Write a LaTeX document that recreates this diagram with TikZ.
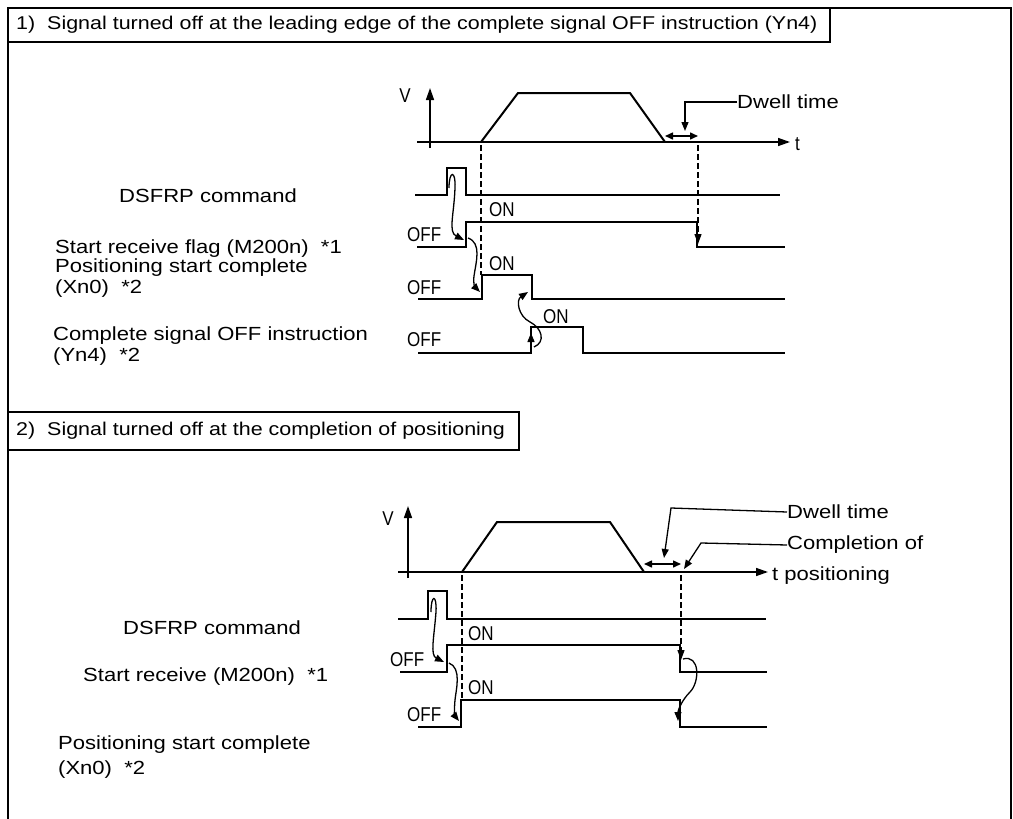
\documentclass[tikz,border=0pt]{standalone}
\usepackage{fontspec}
\setmainfont{Liberation Sans}
\newfontfamily\widefont[FakeStretch=1.16]{Liberation Sans}
\newfontfamily\narrowfont[FakeStretch=0.85]{Liberation Sans}
\usetikzlibrary{arrows.meta}
\begin{document}
\begin{tikzpicture}[x=1pt,y=-1pt,
  wave/.style={line width=2pt, line join=miter},
  axisln/.style={line width=1.5pt,-{Triangle[length=12pt,width=8pt]}},
  dashln/.style={line width=1.2pt, dash pattern=on 6pt off 3pt},
  dasharr/.style={line width=1.2pt, dash pattern=on 6pt off 3pt,-{Triangle[length=10pt,width=7pt]}},
  curvarr/.style={line width=1.3pt,-{Triangle[length=9pt,width=7pt]}},
  dblarr/.style={line width=1.5pt,{Triangle[length=8pt,width=7pt]}-{Triangle[length=8pt,width=7pt]}},
  lbl/.style={font=\widefont\fontsize{19}{22}\selectfont, anchor=west, inner sep=0pt},
  hdr/.style={font=\widefont\fontsize{18.5}{22}\selectfont, anchor=west, inner sep=0pt},
  sig/.style={font=\narrowfont\fontsize{20}{22}\selectfont, anchor=west, inner sep=0pt},
  frameln/.style={line width=2pt}]
\useasboundingbox (0,0) rectangle (1013,819);

% ---------- frame and headers ----------
\draw[frameln] (8,819) -- (8,8) -- (1011,8) -- (1011,819);
\node[hdr] (h1) at (16,25) {1)\ \ Signal turned off at the leading edge of the complete signal OFF instruction (Yn4)};
\draw[frameln] (8,42) -- (h1.east |- 0,42) ++(12,0) coordinate (h1c) (8,42) -- (h1c) -- (h1c |- 0,8);
\node[hdr] (h2) at (16,431) {2)\ \ Signal turned off at the completion of positioning};
\draw[frameln] (8,412) -- (h2.east |- 0,412) ++(14,0) coordinate (h2c) (8,412) -- (h2c) -- (h2c |- 0,450) -- (8,450);

% ---------- section 1 ----------
\coordinate (v1o) at (430,148);
\coordinate (v1t) at (430,88);
\draw[axisln] (v1o) -- (v1t);
\node[sig, anchor=center] (v1) at (405,96) {V};
\coordinate (t1s) at (417,142);
\coordinate (t1e) at (790,142);
\draw[axisln] (t1s) -- (t1e);
\node[sig] (t1) at (795,144) {t};
\draw[wave] (481,142) -- (518,93) -- (630,93) -- (665,142);
\draw[dblarr] (665,136) -- (698,136);
\node[lbl] (dw1) at (737,102) {Dwell time};
\draw[curvarr] (dw1.west) -- (685,102) -- (685,131);

% waveforms
\draw[wave] (415,195) -- (447,195) -- (447,168) -- (466,168) -- (466,195) -- (780,195);
\draw[wave] (417,247) -- (466,247) -- (466,222) -- (697,222) -- (697,247) -- (785,247);
\draw[wave] (418,299) -- (482,299) -- (482,275) -- (532,275) -- (532,299) -- (785,299);
\draw[wave] (418,353) -- (531,353) -- (531,327) -- (583,327) -- (583,353) -- (785,353);
\draw[dashln] (481,145) -- (481,275);
\draw[dasharr] (698,145) -- (698,244);

\node[sig] (off11) at (407,235) {OFF};
\node[sig] (on11) at (489,210) {ON};
\node[sig] (off12) at (407,288) {OFF};
\node[sig] (on12) at (489,264) {ON};
\node[sig] (off13) at (407,340) {OFF};
\node[sig] (on13) at (543,317) {ON};

\draw[curvarr] (449,188) .. controls (449,170) and (456,170) .. (455,188)
   .. controls (454,215) and (448,232) .. (464,240);
\draw[curvarr] (468,238) .. controls (482,243) and (476,262) .. (474,276) .. controls (473,283) and (475,287) .. (480,292);
\draw[curvarr] (531,352) -- (531,333);
\draw[curvarr] (534,347) .. controls (546,342) and (542,328) .. (530,322) .. controls (518,316) and (516,300) .. (528,292);

\node[lbl, anchor=center] (ds1) at (208,196) {DSFRP command};
\node[lbl] (sr1) at (55,249) {Start receive flag (M200n) \ *1};
\node[lbl] (ps1) at (55,268) {Positioning start complete};
\node[lbl] (xn1) at (55,289) {(Xn0) \ *2};
\node[lbl] (cs1) at (53,336) {Complete signal OFF instruction};
\node[lbl] (yn1) at (53,357) {(Yn4) \ *2};

% ---------- section 2 ----------
\coordinate (v2o) at (408,578);
\coordinate (v2t) at (408,506);
\draw[axisln] (v2o) -- (v2t);
\node[sig, anchor=center] (v2) at (388,519) {V};
\coordinate (t2s) at (398,572);
\coordinate (t2e) at (768,572);
\draw[axisln] (t2s) -- (t2e);
\node[lbl] (tp2) at (772,576) {t positioning};
\draw[wave] (462,572) -- (497,522) -- (610,522) -- (644,572);
\draw[dblarr] (644,564) -- (681,564);
\node[lbl] (dw2) at (787,512) {Dwell time};
\draw[curvarr] (dw2.west) -- (671,508) -- (664,558);
\node[lbl] (cp2) at (787,545) {Completion of};
\draw[curvarr] (cp2.west) -- (701,543) -- (684,569);

\draw[wave] (398,619) -- (428,619) -- (428,591) -- (447,591) -- (447,619) -- (766,619);
\draw[wave] (400,672) -- (447,672) -- (447,645) -- (680,645) -- (680,672) -- (767,672);
\draw[wave] (418,727) -- (461,727) -- (461,700) -- (680,700) -- (680,727) -- (767,727);
\draw[dashln] (462,575) -- (462,700);
\draw[dasharr] (681,575) -- (681,660);

\node[sig] (off21) at (390,660) {OFF};
\node[sig] (on21) at (468,634) {ON};
\node[sig] (off22) at (407,715) {OFF};
\node[sig] (on22) at (468,688) {ON};

\draw[curvarr] (431,612) .. controls (431,594) and (437,594) .. (436,612)
   .. controls (434,638) and (430,655) .. (444,662);
\draw[curvarr] (449,663) .. controls (462,668) and (456,690) .. (455,700) .. controls (454,710) and (455,716) .. (459,721);
\draw[curvarr] (683,659) .. controls (700,654) and (700,682) .. (690,692) .. controls (682,700) and (678,710) .. (678,721);

\node[lbl, anchor=center] (ds2) at (212,628) {DSFRP command};
\node[lbl] (sr2) at (83,677) {Start receive (M200n) \ *1};
\node[lbl] (ps2) at (58,745) {Positioning start complete};
\node[lbl] (xn2) at (58,770) {(Xn0) \ *2};
\end{tikzpicture}
\end{document}
